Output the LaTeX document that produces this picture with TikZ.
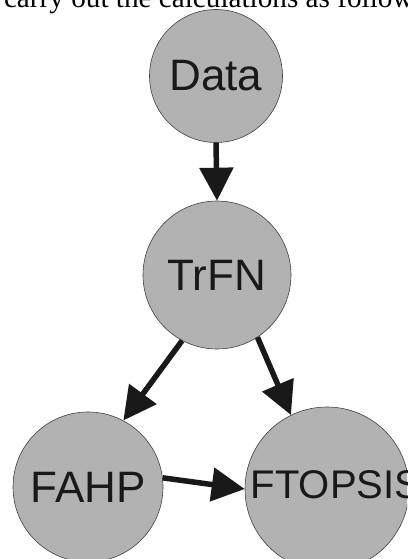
\documentclass[tikz,border=0pt]{standalone}
\usepackage{fontspec}
\setmainfont{Liberation Serif}
\newfontfamily\labelfont{Liberation Sans}
\usetikzlibrary{arrows.meta}

\begin{document}
\begin{tikzpicture}[x=1pt,y=-1pt,
  bubble/.style={circle, fill=black!30, draw=black!75, line width=0.6pt, inner sep=0pt,
    font=\labelfont\fontsize{44}{44}\selectfont, text=black!90},
  flow/.style={draw=black!90, line width=5.5pt, -{Triangle[length=33pt,width=33pt]}}]
\useasboundingbox (0,0) rectangle (407,559);
\clip (0,0) rectangle (407,559);

\node [anchor=base west, font=\fontsize{29.2}{30}\selectfont] (intro) at (0.5,8) {carry out the calculations as follows};

\node [bubble, minimum size=133pt] (data) at (216,76) {Data};
\node [bubble, minimum size=148pt] (trfn) at (217,275) {TrFN};
\node [bubble, minimum size=150pt] (fahp) at (88,487) {FAHP};
% text of this one is wider than its circle
\node [bubble, minimum size=164pt, label={[font=\labelfont\fontsize{40}{40}\selectfont, text=black!90, xshift=9pt, yshift=4pt]center:FTOPSIS}] (ftopsis) at (327,489) {};

\draw [flow] (data.south) -- (trfn.north);
\draw [flow] (trfn.242) -- (fahp.62);
\draw [flow] (trfn.303) -- (ftopsis.116);
\draw [flow] (fahp.7) -- (ftopsis.west);

\end{tikzpicture}
\end{document}
